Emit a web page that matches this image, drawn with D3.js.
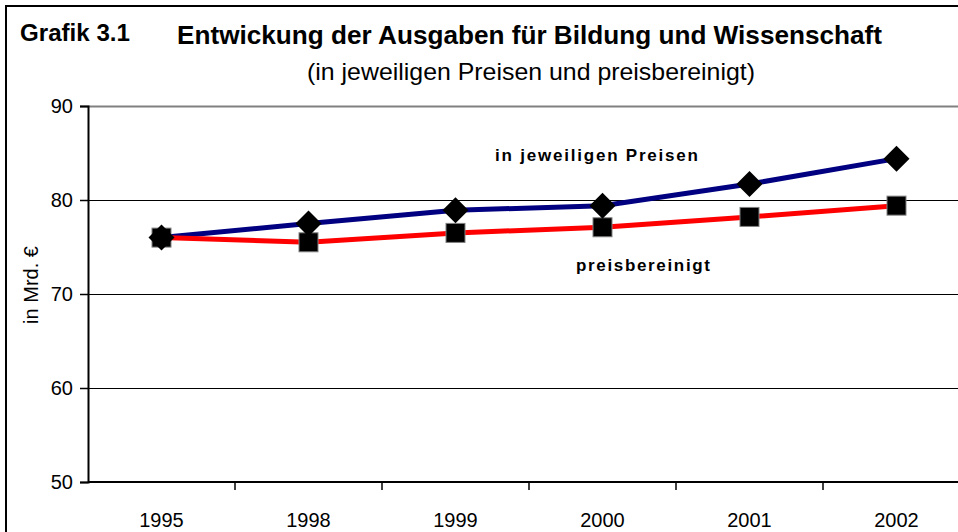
<!DOCTYPE html>
<html><head><meta charset="utf-8">
<script src="https://cdn.jsdelivr.net/npm/d3@7"></script>
<style>body{margin:0;background:#fff}svg{display:block}text{font-family:"Liberation Sans",Arial,sans-serif}</style>
</head><body><svg id="c" width="958" height="532"></svg>
<script>
const years = ["1995","1998","1999","2000","2001","2002"];
const nominal = [76.0, 77.5, 78.9, 79.4, 81.7, 84.4];
const real = [76.0, 75.5, 76.5, 77.1, 78.2, 79.4];
const yTicks = [50, 60, 70, 80, 90];
const labels = ["in jeweiligen Preisen", "preisbereinigt"];

const svg = d3.select("#c");
const W = 958, H = 532;
const x = d3.scaleBand().domain(years).range([88, 970]).paddingInner(0).paddingOuter(0);
const y = d3.scaleLinear().domain([50, 90]).range([482, 106]);
const FF = "Liberation Sans, Arial, sans-serif";

// frame
svg.append("rect").attr("x", 6).attr("y", 6).attr("width", 980).attr("height", 560)
  .attr("fill", "none").attr("stroke", "#000").attr("stroke-width", 2);

// gridlines
svg.append("g").selectAll("line").data(yTicks.filter(d => d > 50)).join("line")
  .attr("x1", 88).attr("x2", W).attr("y1", d => Math.round(y(d)) + 0.5).attr("y2", d => Math.round(y(d)) + 0.5)
  .attr("stroke", d => d === 90 ? "#808080" : "#000").attr("stroke-width", d => d === 90 ? 2 : 1);

// y axis
const ya = svg.append("g").attr("transform", "translate(88,0)")
  .call(d3.axisLeft(y).tickValues(yTicks).tickSize(8).tickPadding(7));
ya.select(".domain").attr("stroke", "#000").attr("stroke-width", 2);
ya.selectAll(".tick line").attr("stroke", "#000").attr("stroke-width", 1.5);
ya.selectAll("text").attr("font-size", 20).attr("fill", "#000").style("font-family", FF);

// x axis
const xa = svg.append("g").attr("transform", "translate(0,482)")
  .call(d3.axisBottom(x).tickSize(0).tickPadding(31));
xa.select(".domain").remove();
xa.selectAll("text").attr("font-size", 20).attr("fill", "#000").style("font-family", FF);
svg.append("line").attr("x1", 88).attr("x2", W).attr("y1", 482).attr("y2", 482).attr("stroke", "#000").attr("stroke-width", 2);
svg.append("g").selectAll("line").data(years.slice(1)).join("line")
  .attr("x1", d => x(d)).attr("x2", d => x(d)).attr("y1", 482).attr("y2", 490)
  .attr("stroke", "#000").attr("stroke-width", 1.5);

const cx = d => x(d) + x.bandwidth() / 2;
const line = d3.line().x((d, i) => cx(years[i])).y(d => y(d));

svg.append("path").datum(nominal).attr("d", line).attr("fill", "none").attr("stroke", "#000080").attr("stroke-width", 5);
svg.append("path").datum(real).attr("d", line).attr("fill", "none").attr("stroke", "#ff0000").attr("stroke-width", 5);

// square markers (real)
svg.append("g").selectAll("rect").data(real).join("rect")
  .attr("x", (d, i) => cx(years[i]) - 9.5).attr("y", d => y(d) - 9.5)
  .attr("width", 19).attr("height", 19).attr("fill", "#000").attr("stroke", "#808080").attr("stroke-width", 1);
// diamond markers (nominal)
svg.append("g").selectAll("path").data(nominal).join("path")
  .attr("transform", (d, i) => `translate(${cx(years[i])},${y(d)})`)
  .attr("d", "M0,-13L13,0L0,13L-13,0Z").attr("fill", "#000");

// series labels
svg.append("text").attr("x", 495).attr("y", 161).attr("font-size", 17).attr("font-weight", "bold")
  .attr("textLength", 203).attr("lengthAdjust", "spacing").text(labels[0]);
svg.append("text").attr("x", 576).attr("y", 271).attr("font-size", 17).attr("font-weight", "bold")
  .attr("textLength", 134).attr("lengthAdjust", "spacing").text(labels[1]);

// titles
svg.append("text").attr("x", 20).attr("y", 41).attr("font-size", 23).attr("font-weight", "bold")
  .attr("textLength", 110).attr("lengthAdjust", "spacingAndGlyphs").text("Grafik 3.1");
svg.append("text").attr("x", 177).attr("y", 44).attr("font-size", 26).attr("font-weight", "bold")
  .attr("textLength", 705).attr("lengthAdjust", "spacingAndGlyphs")
  .text("Entwickung der Ausgaben für Bildung und Wissenschaft");
svg.append("text").attr("x", 307).attr("y", 80).attr("font-size", 24)
  .attr("textLength", 448).attr("lengthAdjust", "spacingAndGlyphs")
  .text("(in jeweiligen Preisen und preisbereinigt)");

// y title
svg.append("text").attr("transform", "translate(38,285) rotate(-90)").attr("text-anchor", "middle")
  .attr("font-size", 20).text("in Mrd. €");
</script></body></html>
